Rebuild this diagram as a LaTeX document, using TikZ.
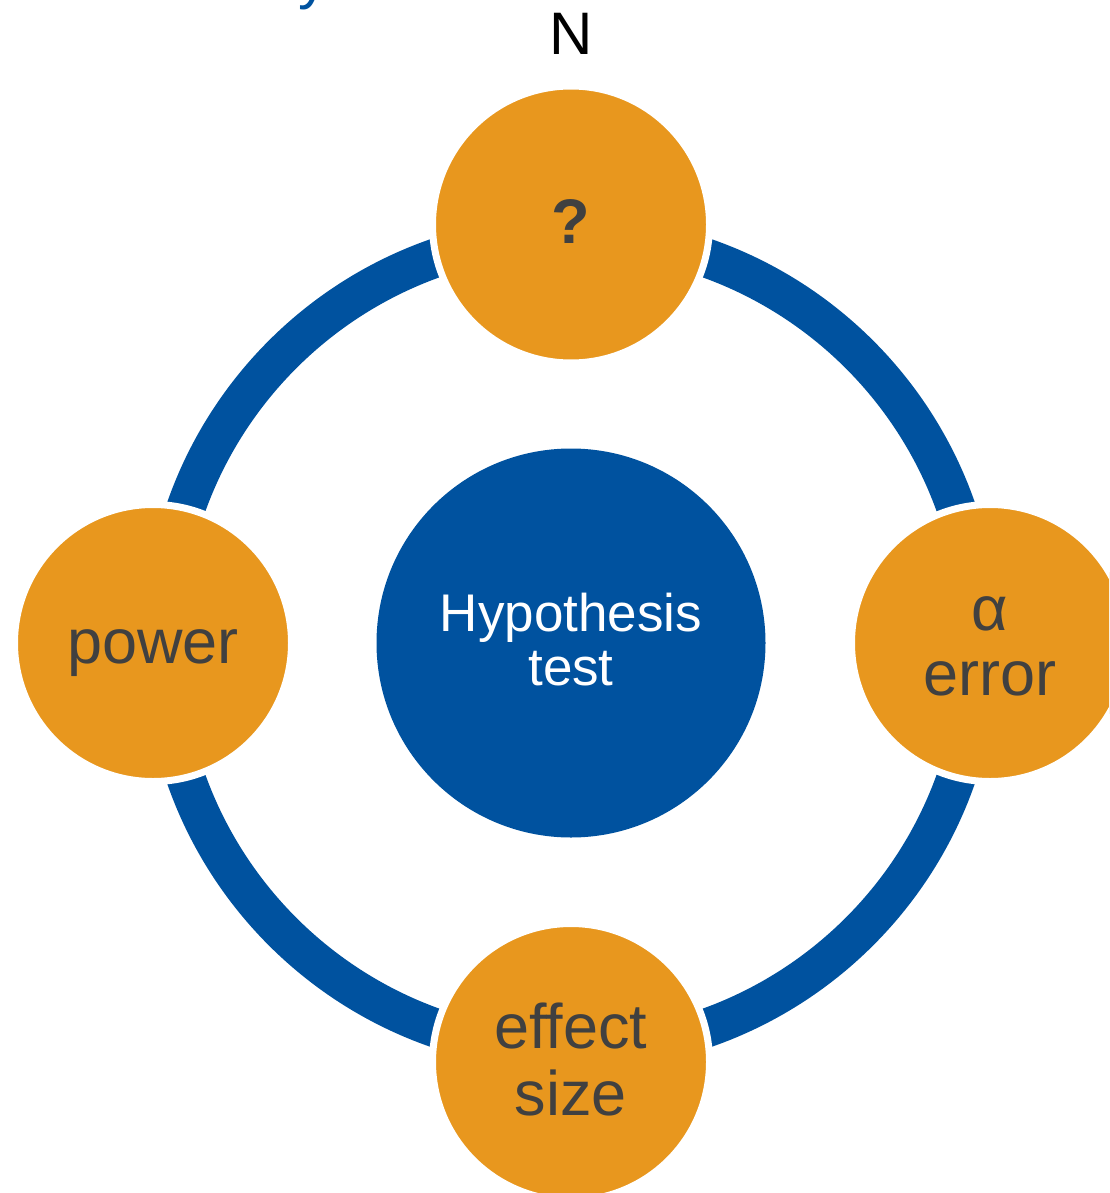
\documentclass[tikz,border=0pt]{standalone}
\usepackage{fontspec}
\setmainfont{Liberation Sans}
\definecolor{ringblue}{RGB}{0,82,159}
\definecolor{orng}{RGB}{232,151,30}
\definecolor{txtgray}{RGB}{64,64,64}
\begin{document}
\begin{tikzpicture}[x=1pt,y=-1pt,
  ring/.style={draw=ringblue,line width=39pt},
  hubnode/.style={circle,fill=ringblue,inner sep=0pt,minimum size=389pt},
  satnode/.style={circle,fill=orng,draw=white,line width=7pt,inner sep=0pt,minimum size=277pt},
  satlbl/.style={anchor=base,text=txtgray,inner sep=0pt,font=\fontsize{63}{66}\selectfont},
  hublbl/.style={anchor=base,text=white,inner sep=0pt,font=\fontsize{53}{54}\selectfont},
  toplbl/.style={anchor=base,inner sep=0pt,font=\fontsize{60}{62}\selectfont}]
\useasboundingbox (0,0) rectangle (1109,1193);
\clip (0,0) rectangle (1109,1193);
% hub
\node[hubnode] (hyp) at (571,643) {};
% ring
\draw[ring] (hyp.center) circle[radius=408pt];
% satellites
\node[satnode] (q) at (571,224.5) {};
\node[satnode] (alpha) at (990,643) {};
\node[satnode] (eff) at (571,1062) {};
\node[satnode] (pow) at (153,643) {};
% labels
\node[hublbl] (hyp1) at (571,631) {Hypothesis};
\node[hublbl] (hyp2) at (571,685) {test};
\node[satlbl,font=\fontsize{63}{66}\selectfont\bfseries] (qt) at (571,243) {?};
\node[satlbl] (al1) at (990,630) {α};
\node[satlbl] (al2) at (990,695) {error};
\node[satlbl] (ef1) at (571,1048) {effect};
\node[satlbl] (ef2) at (571,1115) {size};
\node[satlbl] (pw) at (153,663) {power};
\node[toplbl] (n) at (571,55) {N};
\node[toplbl,text=ringblue] (ty) at (313,-2) {y};
\end{tikzpicture}
\end{document}
